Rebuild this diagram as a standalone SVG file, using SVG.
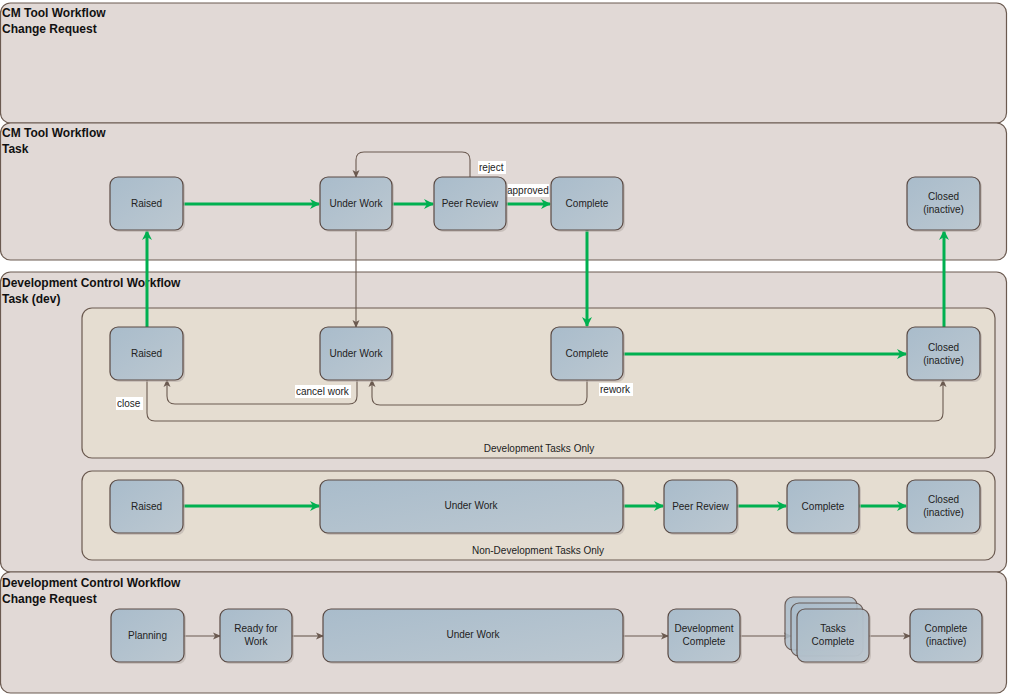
<svg xmlns="http://www.w3.org/2000/svg" width="1009" height="696" viewBox="0 0 1009 696">
<defs>
<linearGradient id="ng" x1="0" y1="0" x2="1" y2="1">
<stop offset="0" stop-color="#a9bccb"/>
<stop offset="1" stop-color="#bcc8d1"/>
</linearGradient>
<marker id="ag" markerWidth="10" markerHeight="10" refX="9" refY="5" orient="auto" markerUnits="userSpaceOnUse">
<path d="M0,0 L10,5 L0,10 L3,5 z" fill="#00b050"/>
</marker>
<marker id="ab" markerWidth="8" markerHeight="8" refX="7" refY="4" orient="auto" markerUnits="userSpaceOnUse">
<path d="M0,0.5 L8,4 L0,7.5 L2,4 z" fill="#6b5a50"/>
</marker>
</defs>
<style>
.lane{fill:#e1d9d6;stroke:#6b5a50;stroke-width:1.2}
.box{fill:#e5ddd1;stroke:#6b5a50;stroke-width:1.2}
.node{fill:url(#ng);stroke:#5a4a44;stroke-width:1.2}
.shadow{fill:#b8afaa;opacity:0.6}
.title{font-family:"Liberation Sans",Arial,sans-serif;font-weight:bold;font-size:12px;fill:#111}
.t{font-family:"Liberation Sans",Arial,sans-serif;font-size:10px;fill:#222;text-anchor:middle}
.lbl{font-family:"Liberation Sans",Arial,sans-serif;font-size:10px;fill:#222}
.g{fill:none;stroke:#00b050;stroke-width:3;marker-end:url(#ag)}
.b{fill:none;stroke:#6b5a50;stroke-width:1.1;marker-end:url(#ab)}
.lb{fill:#fff}
</style>
<rect width="1009" height="696" fill="#ffffff"/>

<g id="lane-cm-cr">
<rect class="lane" x="0.5" y="3" width="1006" height="120" rx="10"/>
<text class="title" x="2" y="17">CM Tool Workflow</text>
<text class="title" x="2" y="33">Change Request</text>
</g>
<g id="lane-cm-task">
<rect class="lane" x="0.5" y="123" width="1006" height="137" rx="10"/>
<text class="title" x="2" y="137">CM Tool Workflow</text>
<text class="title" x="2" y="153">Task</text>
</g>
<g id="lane-dc-task">
<rect class="lane" x="0.5" y="272" width="1006" height="300" rx="10"/>
<text class="title" x="2" y="287">Development Control Workflow</text>
<text class="title" x="2" y="303">Task (dev)</text>
</g>
<g id="lane-dc-cr">
<rect class="lane" x="0.5" y="572" width="1006" height="121" rx="10"/>
<text class="title" x="2" y="587">Development Control Workflow</text>
<text class="title" x="2" y="603">Change Request</text>
</g>

<g id="box-dev">
<rect class="box" x="82" y="308" width="913" height="150" rx="10"/>
<text class="t" x="539" y="452">Development Tasks Only</text>
</g>
<g id="box-nondev">
<rect class="box" x="82" y="471" width="913" height="89" rx="10"/>
<text class="t" x="538" y="554">Non-Development Tasks Only</text>
</g>

<g id="connectors">
<path class="g" d="M183,204 H319"/>
<path class="g" d="M392,204 H433"/>
<path class="g" d="M506,204 H550"/>
<path class="g" d="M587,230 V326"/>
<path class="g" d="M147,327 V231"/>
<path class="g" d="M623,354 H906"/>
<path class="g" d="M944,327 V231"/>
<path class="g" d="M183,506 H319"/>
<path class="g" d="M623,506 H663"/>
<path class="g" d="M737,506 H786"/>
<path class="g" d="M859,506 H906"/>
<path class="b" d="M470,177 V160 Q470,152 462,152 H364 Q356,152 356,160 V177"/>
<path class="b" d="M356,230 V327"/>
<path class="b" d="M357,380 V396 Q357,404 349,404 H175 Q167,404 167,396 V380"/>
<path class="b" d="M587,380 V397 Q587,405 579,405 H380 Q372,405 372,397 V380"/>
<path class="b" d="M147,380 V413 Q147,421 155,421 H935 Q943,421 943,413 V380"/>
<path class="b" d="M184,636 H220"/>
<path class="b" d="M292,636 H323"/>
<path class="b" d="M623,636 H668"/>
<path class="b" d="M740,636 H791"/>
<path class="b" d="M869,636 H910"/>
<rect class="lb" x="478" y="161" width="28" height="13"/>
<text class="lbl" x="479" y="171">reject</text>
<rect class="lb" x="506" y="184" width="43" height="13"/>
<text class="lbl" x="507" y="194">approved</text>
<rect class="lb" x="295" y="385" width="56" height="13"/>
<text class="lbl" x="296" y="395">cancel work</text>
<rect class="lb" x="599" y="383" width="34" height="13"/>
<text class="lbl" x="600" y="393">rework</text>
<rect class="lb" x="116" y="397" width="27" height="13"/>
<text class="lbl" x="117" y="407">close</text>
</g>

<g id="task-raised"><rect class="shadow" x="112" y="179" width="73" height="53" rx="8"/><rect class="node" x="110" y="177" width="73" height="53" rx="8"/><text class="t" x="146.5" y="207">Raised</text></g>
<g id="task-underwork"><rect class="shadow" x="322" y="179" width="72" height="53" rx="8"/><rect class="node" x="320" y="177" width="72" height="53" rx="8"/><text class="t" x="356" y="207">Under Work</text></g>
<g id="task-peerreview"><rect class="shadow" x="436" y="179" width="72" height="53" rx="8"/><rect class="node" x="434" y="177" width="72" height="53" rx="8"/><text class="t" x="470" y="207">Peer Review</text></g>
<g id="task-complete"><rect class="shadow" x="553" y="179" width="72" height="53" rx="8"/><rect class="node" x="551" y="177" width="72" height="53" rx="8"/><text class="t" x="587" y="207">Complete</text></g>
<g id="task-closed"><rect class="shadow" x="909" y="179" width="73" height="53" rx="8"/><rect class="node" x="907" y="177" width="73" height="53" rx="8"/><text class="t" x="943.5" y="200">Closed</text><text class="t" x="943.5" y="213">(inactive)</text></g>

<g id="dev-raised"><rect class="shadow" x="112" y="329" width="73" height="53" rx="8"/><rect class="node" x="110" y="327" width="73" height="53" rx="8"/><text class="t" x="146.5" y="357">Raised</text></g>
<g id="dev-underwork"><rect class="shadow" x="322" y="329" width="72" height="53" rx="8"/><rect class="node" x="320" y="327" width="72" height="53" rx="8"/><text class="t" x="356" y="357">Under Work</text></g>
<g id="dev-complete"><rect class="shadow" x="553" y="329" width="72" height="53" rx="8"/><rect class="node" x="551" y="327" width="72" height="53" rx="8"/><text class="t" x="587" y="357">Complete</text></g>
<g id="dev-closed"><rect class="shadow" x="909" y="329" width="73" height="53" rx="8"/><rect class="node" x="907" y="327" width="73" height="53" rx="8"/><text class="t" x="943.5" y="351">Closed</text><text class="t" x="943.5" y="364">(inactive)</text></g>

<g id="nd-raised"><rect class="shadow" x="112" y="482" width="73" height="53" rx="8"/><rect class="node" x="110" y="480" width="73" height="53" rx="8"/><text class="t" x="146.5" y="510">Raised</text></g>
<g id="nd-underwork"><rect class="shadow" x="322" y="482" width="303" height="53" rx="8"/><rect class="node" x="320" y="480" width="303" height="53" rx="8"/><text class="t" x="471" y="509">Under Work</text></g>
<g id="nd-peerreview"><rect class="shadow" x="666" y="482" width="73" height="53" rx="8"/><rect class="node" x="664" y="480" width="73" height="53" rx="8"/><text class="t" x="700.5" y="510">Peer Review</text></g>
<g id="nd-complete"><rect class="shadow" x="789" y="482" width="72" height="53" rx="8"/><rect class="node" x="787" y="480" width="72" height="53" rx="8"/><text class="t" x="823" y="510">Complete</text></g>
<g id="nd-closed"><rect class="shadow" x="909" y="482" width="73" height="53" rx="8"/><rect class="node" x="907" y="480" width="73" height="53" rx="8"/><text class="t" x="943.5" y="503">Closed</text><text class="t" x="943.5" y="516">(inactive)</text></g>

<g id="cr-planning"><rect class="shadow" x="113" y="611" width="73" height="53" rx="8"/><rect class="node" x="111" y="609" width="73" height="53" rx="8"/><text class="t" x="147.5" y="639">Planning</text></g>
<g id="cr-ready"><rect class="shadow" x="222" y="611" width="72" height="53" rx="8"/><rect class="node" x="220" y="609" width="72" height="53" rx="8"/><text class="t" x="256" y="632">Ready for</text><text class="t" x="256" y="645">Work</text></g>
<g id="cr-underwork"><rect class="shadow" x="325" y="611" width="300" height="53" rx="8"/><rect class="node" x="323" y="609" width="300" height="53" rx="8"/><text class="t" x="473" y="638">Under Work</text></g>
<g id="cr-devcomplete"><rect class="shadow" x="670" y="611" width="72" height="53" rx="8"/><rect class="node" x="668" y="609" width="72" height="53" rx="8"/><text class="t" x="704" y="632">Development</text><text class="t" x="704" y="645">Complete</text></g>
<g id="cr-taskscomplete">
<rect class="node" x="785" y="597" width="72" height="53" rx="8" opacity="0.85"/>
<rect class="node" x="791" y="603" width="72" height="53" rx="8" opacity="0.85"/>
<rect class="shadow" x="799" y="611" width="72" height="53" rx="8"/>
<rect class="node" x="797" y="609" width="72" height="53" rx="8" opacity="0.9"/>
<text class="t" x="833" y="632">Tasks</text><text class="t" x="833" y="645">Complete</text>
</g>
<g id="cr-completeinactive"><rect class="shadow" x="912" y="611" width="72" height="53" rx="8"/><rect class="node" x="910" y="609" width="72" height="53" rx="8"/><text class="t" x="946" y="632">Complete</text><text class="t" x="946" y="645">(inactive)</text></g>
</svg>
